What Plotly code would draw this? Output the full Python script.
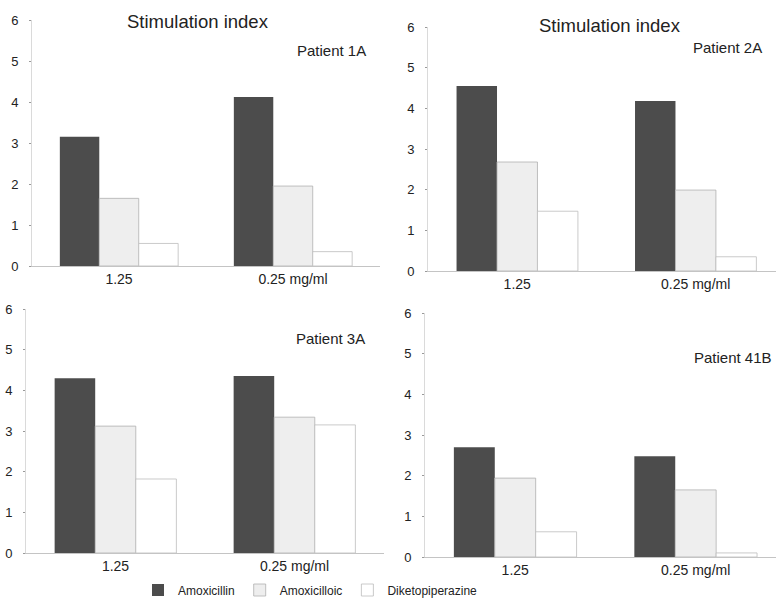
import plotly.graph_objects as go

# ---- data ----
categories = ["1.25", "0.25 mg/ml"]
series_names = ["Amoxicillin", "Amoxicilloic", "Diketopiperazine"]
patients = ["Patient 1A", "Patient 2A", "Patient 3A", "Patient 41B"]
amoxicillin = [[3.15, 4.12], [4.55, 4.18], [4.30, 4.35], [2.70, 2.48]]
amoxicilloic = [[1.65, 1.95], [2.68, 1.99], [3.12, 3.34], [1.94, 1.65]]
diketopiperazine = [[0.55, 0.35], [1.47, 0.35], [1.82, 3.15], [0.62, 0.10]]
y_ticks = [0, 1, 2, 3, 4, 5, 6]
panel_title = "Stimulation index"

W, H = 776, 606
FONT = "Liberation Sans, Arial, sans-serif"
TXT = "#222222"


def fx(px):
    return px / W


def fy(py):
    return 1 - py / H


# panel layout in pixels: (x0, x1, xmax, y_zero, y_six)
panels = [
    (32, 380, 1.5, 266, 20),
    (428, 776, 1.45, 271, 27),
    (26, 384, 1.5, 553, 309),
    (425, 776, 1.445, 557, 313),
]

styles = [
    dict(color="#4c4c4c", line=dict(color="#4c4c4c", width=0)),
    dict(color="#eeeeee", line=dict(color="#b0b0b0", width=0.8)),
    dict(color="#ffffff", line=dict(color="#bdbdbd", width=0.8)),
]
values = [amoxicillin, amoxicilloic, diketopiperazine]

fig = go.Figure()
for i, (x0, x1, xmax, y0, y6) in enumerate(panels):
    k = "" if i == 0 else str(i + 1)
    for s, name in enumerate(series_names):
        fig.add_trace(go.Bar(
            x=categories, y=values[s][i], name=name,
            marker=styles[s], xaxis="x" + k, yaxis="y" + k,
            showlegend=(i == 0), legendgroup=name,
        ))
    fig.layout["xaxis" + k] = dict(
        domain=[fx(x0), fx(x1)], anchor="y" + k, type="category",
        range=[-0.5, xmax], showline=True, linecolor="#c4c4c4", linewidth=1,
        ticks="", showgrid=False, zeroline=False,
        tickfont=dict(family=FONT, size=14, color=TXT), automargin=False,
    )
    fig.layout["yaxis" + k] = dict(
        domain=[fy(y0), fy(y6)], anchor="x" + k, range=[0, 6],
        tickvals=y_ticks, showline=True, linecolor="#dadada", linewidth=1,
        ticks="outside", ticklen=2, tickcolor="#999999", showgrid=False,
        zeroline=False, ticklabelstandoff=8,
        tickfont=dict(family=FONT, size=13, color=TXT), automargin=False,
    )

annotations = [
    dict(x=fx(198), y=fy(21), text=panel_title, xanchor="center", font_size=18.5),
    dict(x=fx(610), y=fy(26), text=panel_title, xanchor="center", font_size=18.5),
    dict(x=fx(368), y=fy(50), text=patients[0], xanchor="right", font_size=15),
    dict(x=fx(764), y=fy(47), text=patients[1], xanchor="right", font_size=15),
    dict(x=fx(367), y=fy(338), text=patients[2], xanchor="right", font_size=15),
    dict(x=fx(774), y=fy(357), text=patients[3], xanchor="right", font_size=15),
]
for a in annotations:
    a.update(xref="paper", yref="paper", yanchor="middle", showarrow=False,
             font=dict(family=FONT, size=a.pop("font_size"), color=TXT))

fig.update_layout(
    width=W, height=H, margin=dict(l=0, r=0, t=0, b=0),
    paper_bgcolor="white", plot_bgcolor="white",
    barmode="group", bargap=0.32, bargroupgap=0,
    annotations=annotations,
    legend=dict(orientation="h", x=fx(138), y=fy(590), xanchor="left",
                yanchor="middle", font=dict(family=FONT, size=12, color=TXT),
                itemwidth=30, bgcolor="rgba(0,0,0,0)"),
    font=dict(family=FONT, color=TXT),
)

fig.write_html(
    "out.html",
    config={"displayModeBar": False},
    post_script="document.body.style.margin='0';document.body.style.overflow='hidden';",
)
